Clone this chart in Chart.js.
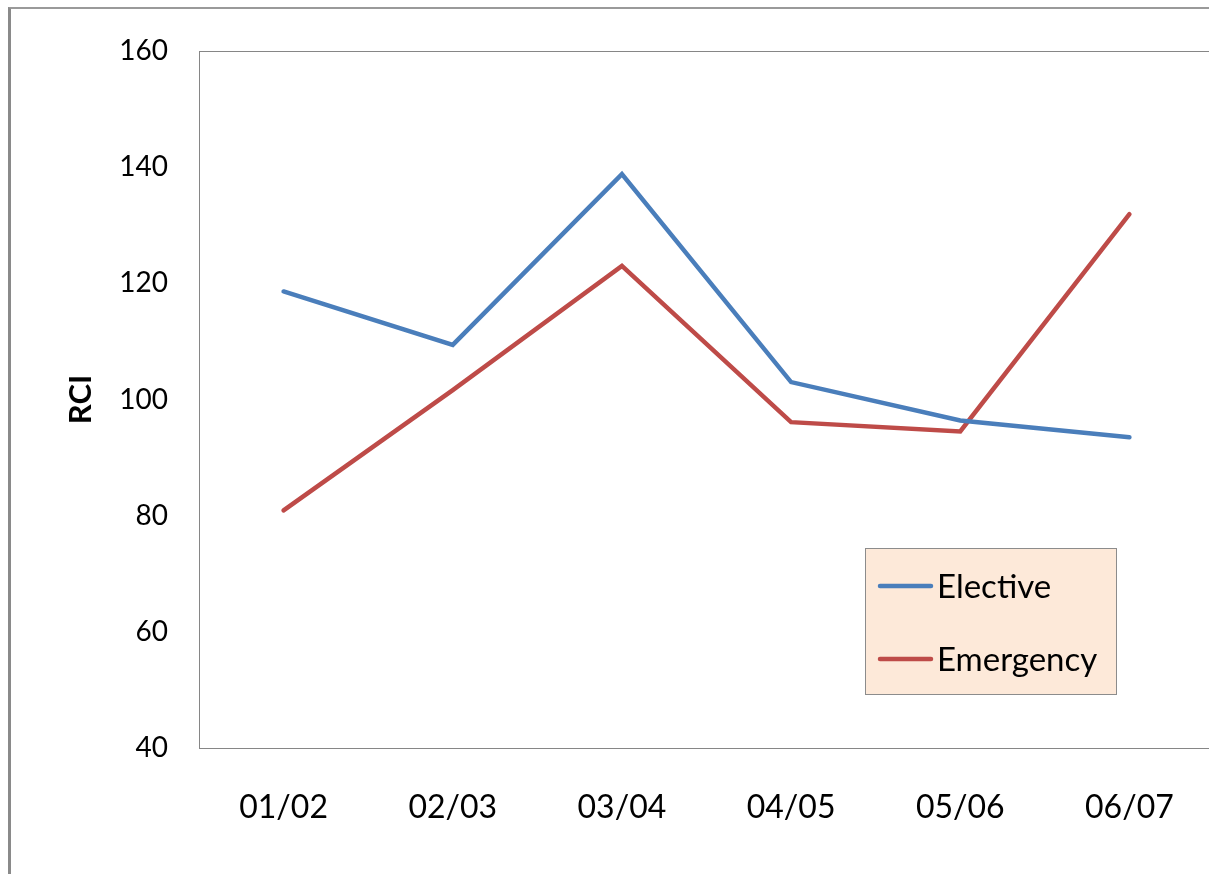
<!DOCTYPE html>
<html>
<head>
<meta charset="utf-8">
<script src="https://cdn.jsdelivr.net/npm/chart.js@4.4.1/dist/chart.umd.min.js"></script>
<style>
  html, body { margin: 0; padding: 0; background: #fff; overflow: hidden; }
  #frame {
    position: absolute; left: 8px; top: 7px; width: 1300px; height: 900px;
    border-left: 3px solid #8a8a8a; border-top: 2px solid #9a9a9a;
  }
  #wrap { position: absolute; left: 0; top: 0; width: 1225px; height: 874px; }
</style>
</head>
<body>
<div id="frame"></div>
<div id="wrap"><canvas id="c" width="1225" height="874"></canvas></div>
<script>
// Financial years
const years = ['01/02', '02/03', '03/04', '04/05', '05/06', '06/07'];
// Relative cost index per year
const elective = [118.6, 109.4, 138.8, 103.0, 96.4, 93.5];
const emergency = [80.9, 101.6, 123.0, 96.1, 94.5, 131.9];
const seriesNames = ['Elective', 'Emergency'];
const yTicks = [40, 60, 80, 100, 120, 140, 160];

const FONT = 'Lato, "Open Sans", sans-serif';

// Plot frame around the chart area
const frameBox = {
  id: 'frameBox',
  beforeDatasetsDraw(chart) {
    const { ctx, chartArea: a } = chart;
    ctx.save();
    ctx.strokeStyle = '#868686';
    ctx.lineWidth = 1;
    ctx.strokeRect(Math.round(a.left) + 0.5, Math.round(a.top) + 0.5,
                   Math.round(a.right - a.left), Math.round(a.bottom - a.top));
    ctx.restore();
  }
};

// Boxed legend sitting inside the plot
const boxLegend = {
  id: 'boxLegend',
  afterDraw(chart) {
    const { ctx } = chart;
    const x = 865.5, y = 548.5, w = 251, h = 146;
    ctx.save();
    ctx.fillStyle = '#FDE9D9';
    ctx.fillRect(x, y, w, h);
    ctx.strokeStyle = '#8c8c8c';
    ctx.lineWidth = 1;
    ctx.strokeRect(x, y, w, h);
    ctx.font = '33px ' + FONT;
    ctx.textBaseline = 'middle';
    ctx.fillStyle = '#000';
    const rows = [586, 659];
    chart.data.datasets.forEach((ds, i) => {
      const ry = rows[i];
      ctx.strokeStyle = ds.borderColor;
      ctx.lineWidth = 4.5;
      ctx.lineCap = 'round';
      ctx.beginPath();
      ctx.moveTo(880, ry);
      ctx.lineTo(931, ry);
      ctx.stroke();
      ctx.fillText(ds.label, 937, ry + 1);
    });
    ctx.restore();
  }
};

new Chart(document.getElementById('c'), {
  type: 'line',
  data: {
    labels: years,
    datasets: [
      { label: seriesNames[0], data: elective, borderColor: '#4A7EBB' },
      { label: seriesNames[1], data: emergency, borderColor: '#BE4B48' }
    ]
  },
  options: {
    responsive: false,
    animation: false,
    devicePixelRatio: 1,
    layout: { padding: { left: 0, top: 51, right: 11, bottom: 0 } },
    elements: {
      line: { borderWidth: 4.5, tension: 0, borderCapStyle: 'round', borderJoinStyle: 'miter', fill: false },
      point: { radius: 0, hoverRadius: 0 }
    },
    plugins: { legend: { display: false }, tooltip: { enabled: false } },
    scales: {
      x: {
        offset: true,
        grid: { display: false, drawTicks: false },
        border: { display: false },
        ticks: { color: '#000', font: { family: FONT, size: 32 }, padding: 40, maxRotation: 0 },
        afterFit(s) { s.height = 874 - 748; }
      },
      y: {
        min: 40, max: 160,
        afterBuildTicks(s) { s.ticks = yTicks.map(v => ({ value: v })); },
        grid: { display: false, drawTicks: false },
        border: { display: false },
        ticks: { color: '#000', font: { family: FONT, size: 28 }, padding: 31 },
        title: { display: true, text: 'RCI', color: '#000', font: { family: FONT, size: 31, weight: 'bold' }, padding: { top: 62, bottom: 0 } },
        afterFit(s) { s.width = 199; }
      }
    }
  },
  plugins: [frameBox, boxLegend]
});
</script>
</body>
</html>
